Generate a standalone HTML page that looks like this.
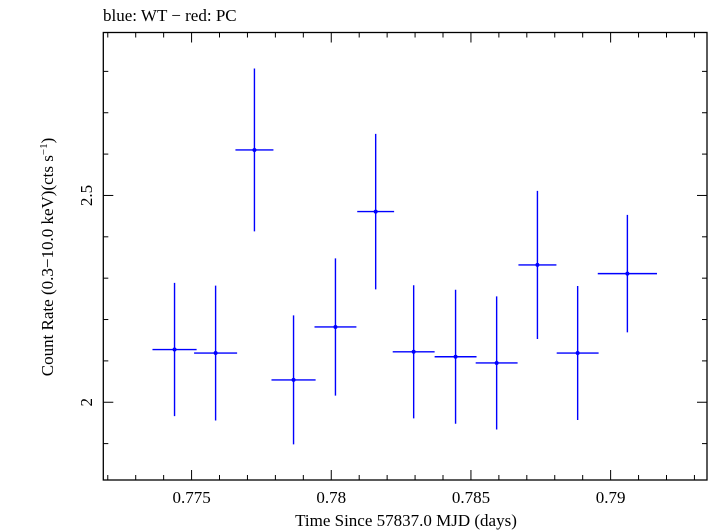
<!DOCTYPE html>
<html><head><meta charset="utf-8"><style>
body{margin:0;background:#fff;}
svg{display:block;font-family:"Liberation Serif",serif;}
</style></head><body>
<svg id="chart" width="709" height="532">
<text x="103" y="21" font-size="17">blue: WT − red: PC</text>
<rect x="103.3" y="32.5" width="603.7" height="447.5" fill="none" stroke="#000" stroke-width="1.3"/>
<g id="ticks"></g>
<g id="marks"></g>
<text x="406" y="526" font-size="17" text-anchor="middle">Time Since 57837.0 MJD (days)</text>
<text transform="translate(53,257) rotate(-90)" font-size="17" text-anchor="middle">Count Rate (0.3−10.0 keV)(cts s<tspan baseline-shift="super" font-size="11">−1</tspan>)</text>
</svg>
<script>
const times=[0.77439,0.77586,0.77725,0.77865,0.78015,0.78159,0.78295,0.78445,0.78592,0.78738,0.78882,0.79060];
const halfWidths=[0.00079,0.00077,0.00068,0.00079,0.00075,0.00066,0.00075,0.00075,0.00075,0.00068,0.00075,0.00106];
const rates=[2.1275,2.119,2.610,2.054,2.182,2.461,2.122,2.110,2.095,2.332,2.119,2.311];
const rateErrors=[0.161,0.163,0.197,0.156,0.166,0.188,0.161,0.162,0.161,0.179,0.162,0.142];
const xTickLabels=["0.775","0.78","0.785","0.79"];
const yTickLabels=["2","2.5"];
const L=103.3,R=707,T=32.5,B=480;
const x0=0.77184,x1=0.79345,y0=1.812,y1=2.894;
const sx=v=>L+(v-x0)/(x1-x0)*(R-L);
const sy=v=>B-(v-y0)/(y1-y0)*(B-T);
const NS="http://www.w3.org/2000/svg";
function mk(tag,attrs,parent){const e=document.createElementNS(NS,tag);for(const k in attrs)e.setAttribute(k,attrs[k]);parent.appendChild(e);return e;}
const tg=document.getElementById('ticks');
for(let i=772;i<=793;i++){const v=i/1000;if(v<x0||v>x1)continue;const X=sx(v);const major=i%5===0;const len=major?10:5;
 let t=mk('line',{x1:X,x2:X,y1:B,y2:B-len,stroke:'#000','stroke-width':1},tg);
 
 
 t=mk('line',{x1:X,x2:X,y1:T,y2:T+len,stroke:'#000','stroke-width':1},tg);
 
 }
xTickLabels.forEach(s=>{const t=mk('text',{x:sx(parseFloat(s)),y:503,'font-size':17,'text-anchor':'middle'},tg);t.textContent=s;
 
 });
for(let i=19;i<=28;i++){const v=i/10;if(v<y0||v>y1)continue;const Y=sy(v);const major=i%5===0;const len=major?10:5;
 let t=mk('line',{x1:L,x2:L+len,y1:Y,y2:Y,stroke:'#000','stroke-width':1},tg);
 
 
 t=mk('line',{x1:R,x2:R-len,y1:Y,y2:Y,stroke:'#000','stroke-width':1},tg);
 
 }
yTickLabels.forEach(s=>{const Y=sy(parseFloat(s));const t=mk('text',{transform:`translate(92,${Y}) rotate(-90)`,'font-size':17,'text-anchor':'middle'},tg);t.textContent=s;
 
 });
const mg=document.getElementById('marks');
times.forEach((t,i)=>{const g=mk('g',{},mg);
 
 
 const X=sx(t),Y=sy(rates[i]);
 mk('line',{x1:sx(t-halfWidths[i]),x2:sx(t+halfWidths[i]),y1:Y,y2:Y,stroke:'#0000ff','stroke-width':1.4},g);
 mk('line',{x1:X,x2:X,y1:sy(rates[i]+rateErrors[i]),y2:sy(rates[i]-rateErrors[i]),stroke:'#0000ff','stroke-width':1.4},g);
 mk('circle',{cx:X,cy:Y,r:2,fill:'#0000ff'},g);});
</script>
</body></html>
